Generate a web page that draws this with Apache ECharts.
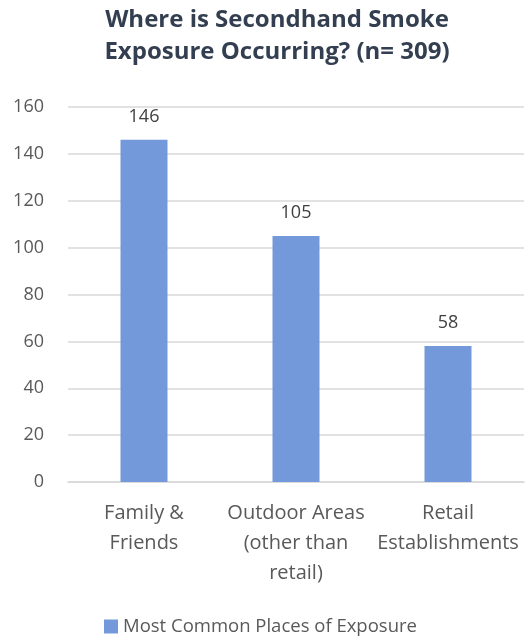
<!DOCTYPE html>
<html>
<head>
<meta charset="utf-8">
<script src="https://cdn.jsdelivr.net/npm/echarts@6/dist/echarts.min.js"></script>
<style>
html,body{margin:0;padding:0;background:#fff;}
#chart{width:527px;height:637px;}
</style>
</head>
<body>
<div id="chart"></div>
<script>
// 图表数据
var categories = ['Family &\nFriends', 'Outdoor Areas\n(other than\nretail)', 'Retail\nEstablishments'];
var values = [146, 105, 58];
var seriesName = 'Most Common Places of Exposure';
var titleText = 'Where is Secondhand Smoke\nExposure Occurring? (n= 309)';

var myChart = echarts.init(document.getElementById('chart'));
var font = '"Open Sans", "Noto Sans", sans-serif';
var option = {
	animation : false,
	title : {
		text : titleText,
		left : 272,
		textAlign : 'center',
		top : -1,
		textStyle : {
			fontFamily : font,
			fontSize : 24,
			fontWeight : 'bold',
			color : '#333f50',
			lineHeight : 32
		}
	},
	legend : {
		data : [seriesName],
		left : 99,
		top : 612,
		itemWidth : 14,
		itemHeight : 14,
		itemGap : 6,
		icon : 'rect',
		textStyle : {
			fontFamily : font,
			fontSize : 18.5,
			color : '#595959'
		}
	},
	grid : {
		left : 68,
		right : 3,
		top : 107,
		bottom : 155,
		containLabel : false
	},
	xAxis : [{
		type : 'category',
		data : categories,
		axisLine : {lineStyle : {color : '#d9d9d9', width : 1.5}},
		axisTick : {show : false},
		axisLabel : {
			fontFamily : font,
			fontSize : 20,
			color : '#595959',
			lineHeight : 30,
			margin : 16,
			interval : 0
		}
	}],
	yAxis : [{
		type : 'value',
		min : 0,
		max : 160,
		interval : 20,
		axisLine : {show : false},
		axisTick : {show : false},
		splitLine : {lineStyle : {color : '#d9d9d9', width : 1.5}},
		axisLabel : {
			fontFamily : font,
			fontSize : 18,
			color : '#595959',
			margin : 24
		}
	}],
	series : [{
		name : seriesName,
		type : 'bar',
		data : values,
		barWidth : 47,
		itemStyle : {color : '#7399da'},
		label : {
			show : true,
			position : 'top',
			distance : 14,
			fontFamily : font,
			fontSize : 18,
			color : '#404040'
		}
	}]
};
myChart.setOption(option);
</script>
</body>
</html>
